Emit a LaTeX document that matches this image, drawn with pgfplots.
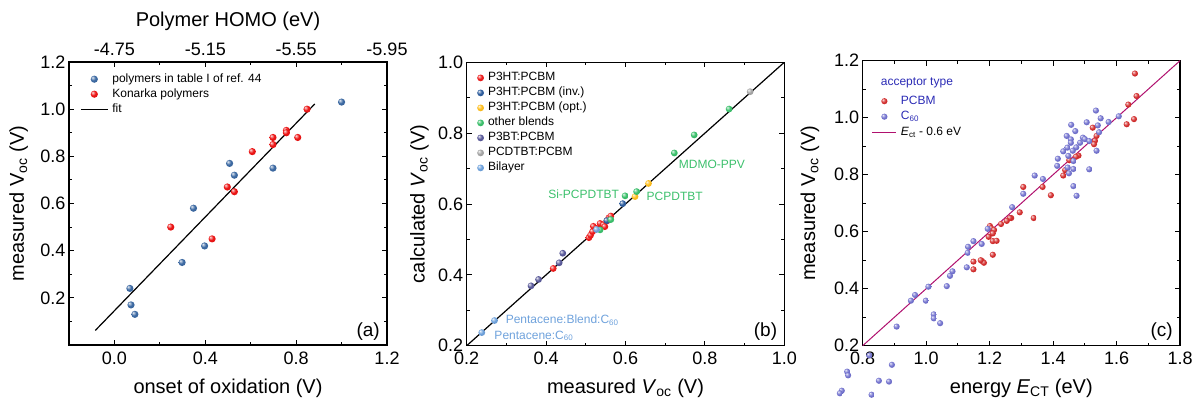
\documentclass[border=0pt]{standalone}
\usepackage{pgfplots}
\pgfplotsset{compat=1.18}
\usepackage{fontspec}
\setmainfont{Liberation Sans}
\definecolor{ablue}{HTML}{3D6AA3}
\definecolor{ared}{HTML}{EC1515}
\definecolor{bred}{HTML}{EE1C1C}
\definecolor{binv}{HTML}{2F5E9E}
\definecolor{bopt}{HTML}{FFBF1F}
\definecolor{bgreen}{HTML}{3CC06C}
\definecolor{bpurp}{HTML}{5B5B9A}
\definecolor{bgrey}{HTML}{A5A5A5}
\definecolor{bbil}{HTML}{6FA2DC}
\definecolor{cred}{HTML}{D42F2F}
\definecolor{cblue}{HTML}{7373CF}
\definecolor{cline}{HTML}{B0106E}
\definecolor{ctxt}{HTML}{2B2BB5}
\colorlet{ballc}{red}
\pgfdeclareradialshading[ballc]{myball}{\pgfpoint{-13bp}{13bp}}{%
 color(0bp)=(ballc!8!white); color(6bp)=(ballc!45!white); color(17bp)=(ballc); color(35bp)=(ballc!92!black); color(50bp)=(ballc!80!black)}
\newcommand\defball[2]{\pgfdeclareplotmark{#1}{\colorlet{ballc}{#2}\pgfpathcircle{\pgfpointorigin}{\pgfplotmarksize}\pgfshadepath{myball}{0}\pgfusepath{discard}}}
\defball{ballA}{ablue}\defball{ballAr}{ared}
\defball{bR}{bred}\defball{bInv}{binv}\defball{bOpt}{bopt}\defball{bG}{bgreen}
\defball{bP}{bpurp}\defball{bGr}{bgrey}\defball{bBil}{bbil}
\defball{cR}{cred}\defball{cB}{cblue}
\pgfplotsset{
 myax/.style={scale only axis, anchor=south west,
  axis line style={line width=1.2pt}, tick style={line width=1pt, black},
  tick align=inside, tick pos=both, xticklabel pos=lower, yticklabel pos=left,
  major tick length=5pt, minor tick length=3pt,
  /pgf/number format/assume math mode=true,
  tick label style={font=\fontsize{18}{18}\selectfont},
  xticklabel style={yshift=-3pt, /pgf/number format/.cd, fixed, fixed zerofill, precision=1},
  yticklabel style={/pgf/number format/.cd, fixed, fixed zerofill, precision=1},
  label style={font=\fontsize{20}{20}\selectfont},
  legend cell align=left,
  legend style={draw=none, fill=none, anchor=north west, font=\fontsize{12}{14}\selectfont,
    nodes={inner sep=0pt, text height=9pt, text depth=3pt}, row sep=3pt, column sep=4pt, inner sep=0pt},
 }
}
\newcommand\panel[1]{\node[anchor=base east, inner sep=0pt, font=\fontsize{19}{19}\selectfont] at ([xshift=-7pt,yshift=9pt]rel axis cs:1,0) {#1};}
\begin{document}
\begin{tikzpicture}
\useasboundingbox (0,0) rectangle (1193pt,-398pt);
% ---------------- panel (a)
\begin{axis}[myax, at={(69pt,-345pt)}, width=318pt, height=283pt,
 xmin=-0.2, xmax=1.2, ymin=0, ymax=1.2,
 xtick={0,0.4,0.8,1.2}, minor xtick={-0.2,0.2,0.6,1.0},
 ytick={0.2,0.4,0.6,0.8,1.0,1.2}, minor ytick={0.1,0.3,0.5,0.7,0.9,1.1},
 xlabel={onset of oxidation (V)}, ylabel={measured V\textsubscript{oc} (V)},
 xlabel style={at={(axis description cs:0.5,-0.17)}, anchor=base},
 ylabel style={at={(axis description cs:-0.158,0.5)}, anchor=center},
 legend style={at={(axis description cs:0,1)}, xshift=11pt, yshift=-11pt},
 legend image code/.code={\draw[mark repeat=2,mark phase=2,#1] plot coordinates {(0pt,0pt) (13.5pt,0pt) (27pt,0pt)};},
]
\addplot[black, line width=1.2pt, forget plot] coordinates {(-0.084,0.062) (0.882,1.022)};
\addplot[only marks, mark=ballA, mark size=3.6pt] coordinates {(1.0,1.03) (0.507,0.77) (0.528,0.72) (0.698,0.75) (0.348,0.58) (0.397,0.42) (0.298,0.35) (0.068,0.24) (0.073,0.17) (0.09,0.13)};
\addlegendentry{polymers in table I of ref. 44}
\addplot[only marks, mark=ballAr, mark size=3.6pt] coordinates {(0.848,1.0) (0.757,0.91) (0.757,0.90) (0.698,0.88) (0.698,0.85) (0.807,0.88) (0.607,0.82) (0.497,0.67) (0.528,0.65) (0.248,0.5) (0.43,0.45)};
\addlegendentry{Konarka polymers}
\addlegendimage{black, line width=1.2pt}
\addlegendentry{fit}
\panel{(a)}
\end{axis}
\begin{axis}[scale only axis, anchor=south west, at={(69pt,-345pt)}, width=318pt, height=283pt,
 xmin=-0.2, xmax=1.2, ymin=0, ymax=1.2,
 axis x line*=top, axis y line=none, x axis line style={draw=none}, xtick style={draw=none},
 xtick={0,0.4,0.8,1.2}, xticklabels={-4.75,-5.15,-5.55,-5.95},
 xticklabel style={font=\fontsize{18}{18}\selectfont, yshift=2.5pt},
 xlabel={Polymer HOMO (eV)}, xlabel style={font=\fontsize{20}{20}\selectfont, at={(axis description cs:0.5,1.125)}, anchor=base},
]
\end{axis}
% ---------------- panel (b)
\begin{axis}[myax, at={(466.7pt,-345.7pt)}, width=317.6pt, height=283.4pt,
 xmin=0.2, xmax=1.0, ymin=0.2, ymax=1.0,
 xtick={0.2,0.4,0.6,0.8,1.0}, minor xtick={0.3,0.5,0.7,0.9},
 ytick={0.2,0.4,0.6,0.8,1.0}, minor ytick={0.3,0.5,0.7,0.9},
 xlabel={measured \textit{V}\textsubscript{oc} (V)}, ylabel={calculated \textit{V}\textsubscript{oc} (V)},
 xlabel style={at={(axis description cs:0.5,-0.167)}, anchor=base},
 ylabel style={at={(axis description cs:-0.149,0.5)}, anchor=center},
 legend style={at={(axis description cs:0,1)}, xshift=10.3pt, yshift=-9.4pt},
 legend image code/.code={\draw[mark repeat=2,mark phase=2,#1] plot coordinates {(0pt,0pt) (9pt,0pt) (18pt,0pt)};},
]
\addplot[black, line width=1.2pt, forget plot] coordinates {(0.2,0.2) (1.0,1.0)};
\addplot[only marks, mark=bR, mark size=3.4pt] coordinates {(0.418,0.418) (0.508,0.505) (0.512,0.512) (0.517,0.522) (0.519,0.537) (0.527,0.531) (0.536,0.545) (0.544,0.541) (0.548,0.536) (0.553,0.552) (0.558,0.561) (0.563,0.566)};
\addlegendentry{P3HT:PCBM}
\addplot[only marks, mark=bInv, mark size=3.4pt] coordinates {(0.593,0.601) (0.553,0.553)};
\addlegendentry{P3HT:PCBM (inv.)}
\addplot[only marks, mark=bOpt, mark size=3.4pt] coordinates {(0.624,0.621) (0.658,0.658)};
\addlegendentry{P3HT:PCBM (opt.)}
\addplot[only marks, mark=bG, mark size=3.4pt] coordinates {(0.599,0.623) (0.628,0.635) (0.723,0.744) (0.773,0.795) (0.861,0.868) (0.563,0.556) (0.536,0.527)};
\addlegendentry{other blends}
\addplot[only marks, mark=bP, mark size=3.4pt] coordinates {(0.362,0.369) (0.381,0.387) (0.433,0.434) (0.442,0.461)};
\addlegendentry{P3BT:PCBM}
\addplot[only marks, mark=bGr, mark size=3.4pt] coordinates {(0.914,0.917)};
\addlegendentry{PCDTBT:PCBM}
\addplot[only marks, mark=bBil, mark size=3.4pt] coordinates {(0.238,0.237) (0.27,0.271) (0.527,0.528)};
\addlegendentry{Bilayer}
\begin{scope}[font=\fontsize{12}{14}\selectfont, inner sep=0pt]
\node[anchor=west, text=bbil] at (axis cs:0.298,0.271) {Pentacene:Blend:C\textsubscript{60}};
\node[anchor=west, text=bbil] at (axis cs:0.2695,0.228) {Pentacene:C\textsubscript{60}};
\node[anchor=west, text=bgreen] at (axis cs:0.734,0.713) {MDMO-PPV};
\node[anchor=west, text=bgreen] at (axis cs:0.653,0.621) {PCPDTBT};
\node[anchor=east, text=bgreen] at (axis cs:0.584,0.628) {Si-PCPDTBT};
\end{scope}
\panel{(b)}
\end{axis}
% ---------------- panel (c)
\begin{axis}[myax, at={(862.7pt,-345.7pt)}, width=317.3pt, height=285pt, clip=false,
 xmin=0.8, xmax=1.8, ymin=0.2, ymax=1.2,
 xtick={0.8,1.0,1.2,1.4,1.6,1.8}, minor xtick={0.9,1.1,1.3,1.5,1.7},
 ytick={0.2,0.4,0.6,0.8,1.0,1.2}, minor ytick={0.3,0.5,0.7,0.9,1.1},
 xlabel={energy \textit{E}\textsubscript{CT} (eV)}, ylabel={measured V\textsubscript{oc} (V)},
 xlabel style={at={(axis description cs:0.5,-0.166)}, anchor=base},
 ylabel style={at={(axis description cs:-0.166,0.5)}, anchor=center},
 legend style={at={(axis description cs:0,1)}, xshift=9pt, yshift=-34.3pt, row sep=3.5pt},
 legend image code/.code={\draw[mark repeat=2,mark phase=2,#1] plot coordinates {(0pt,0pt) (12pt,0pt) (24pt,0pt)};},
]
\addplot[only marks, mark=cR, mark size=3.1pt] coordinates {(1.658,1.155) (1.663,1.076) (1.637,1.046) (1.655,0.995) (1.632,0.977) (1.525,0.965) (1.537,0.936) (1.532,0.919) (1.529,0.907) (1.48,0.867) (1.472,0.863) (1.451,0.851) (1.438,0.816) (1.432,0.797) (1.367,0.757) (1.306,0.757) (1.393,0.728) (1.295,0.668) (1.339,0.648) (1.268,0.648) (1.264,0.648) (1.254,0.638) (1.236,0.627) (1.201,0.62) (1.205,0.612) (1.214,0.606) (1.197,0.582) (1.21,0.594) (1.21,0.567) (1.222,0.568) (1.21,0.519) (1.149,0.495) (1.176,0.497) (1.182,0.491) (1.172,0.5) (1.149,0.468)};
\addlegendentry{\textcolor{ctxt}{PCBM}}
\addplot[only marks, mark=cB, mark size=3.1pt] coordinates {(1.535,1.025) (1.55,0.998) (1.607,1.005) (1.575,0.985) (1.541,0.973) (1.506,0.984) (1.457,0.975) (1.47,0.953) (1.443,0.936) (1.456,0.924) (1.494,0.93) (1.5,0.925) (1.485,0.912) (1.456,0.912) (1.514,0.918) (1.545,0.949) (1.473,0.896) (1.445,0.895) (1.462,0.884) (1.432,0.882) (1.448,0.866) (1.415,0.856) (1.537,0.884) (1.464,0.848) (1.413,0.831) (1.446,0.825) (1.464,0.82) (1.45,0.805) (1.514,0.819) (1.342,0.797) (1.368,0.785) (1.464,0.76) (1.474,0.726) (1.306,0.733) (1.271,0.686) (1.194,0.61) (1.149,0.567) (1.175,0.557) (1.132,0.547) (1.131,0.526) (1.128,0.475) (1.083,0.461) (1.075,0.445) (1.065,0.409) (1.007,0.407) (0.965,0.378) (0.952,0.358) (0.999,0.358) (1.024,0.31) (1.024,0.296) (1.044,0.279) (0.907,0.267) (0.821,0.166) (0.892,0.133) (0.751,0.109) (0.754,0.096) (0.851,0.077) (0.883,0.074) (0.734,0.042) (0.728,0.033) (0.828,0.028)};
\addlegendentry{\textcolor{ctxt}{C\textsubscript{60}}}
\addplot[cline, line width=1pt] coordinates {(0.8,0.2) (1.8,1.2)};
\addlegendentry{\textit{E}\textsubscript{ct} - 0.6 eV}
\node[anchor=west, inner sep=0pt, text=ctxt, font=\fontsize{12}{14}\selectfont] at (axis description cs:0.0567,0.9207) {acceptor type};
\panel{(c)}
\end{axis}
\end{tikzpicture}
\end{document}
